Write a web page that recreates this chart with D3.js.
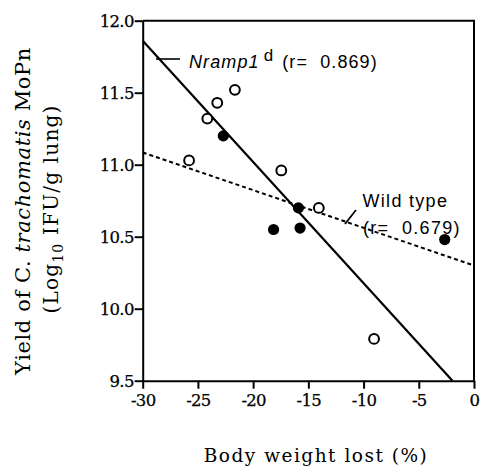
<!DOCTYPE html>
<html><head><meta charset="utf-8">
<script src="https://cdn.jsdelivr.net/npm/d3@7"></script>
<style>
body{margin:0;background:#fff;}
svg{display:block;}
</style></head>
<body><svg id="c" width="481" height="467"></svg>
<script>
// Data
const openX = [-25.8, -24.15, -23.25, -21.65, -17.45, -14.05, -9.05];
const openY = [11.03, 11.32, 11.43, 11.52, 10.96, 10.70, 9.79];
const filledX = [-22.7, -15.9, -18.15, -15.75, -2.65];
const filledY = [11.20, 10.70, 10.55, 10.56, 10.48];
const nrampLineX = [-30, -1.95];
const nrampLineY = [11.86, 9.5];
const wildLineX = [-30, 0];
const wildLineY = [11.085, 10.30];
const xTicks = [-30, -25, -20, -15, -10, -5, 0];
const yTicks = [9.5, 10.0, 10.5, 11.0, 11.5, 12.0];

const svg = d3.select("#c");
const L = 142.7, R = 474, T = 20.7, B = 380.7;
const x = d3.scaleLinear().domain([-30, 0]).range([L, R]);
const y = d3.scaleLinear().domain([9.5, 12]).range([B, T]);

const serif = "'DejaVu Serif', serif";
const sans = "'Liberation Sans', Arial, sans-serif";

// frame (top, right)
svg.append("path").attr("d", `M${L},${T}H${R}V${B}`).attr("fill","none").attr("stroke","#000").attr("stroke-width",2);

const gx = svg.append("g").attr("transform", `translate(0,${B})`)
  .call(d3.axisBottom(x).tickValues(xTicks).tickSize(8).tickSizeOuter(0).tickPadding(6)
    .tickFormat(d => d < 0 ? "-" + Math.abs(d) : String(d)));
const gy = svg.append("g").attr("transform", `translate(${L},0)`)
  .call(d3.axisLeft(y).tickValues(yTicks).tickSize(8).tickSizeOuter(0).tickPadding(1)
    .tickFormat(d3.format(".1f")));
[gx, gy].forEach(g => {
  g.select(".domain").attr("stroke-width", 2);
  g.selectAll(".tick line").attr("stroke-width", 2);
  g.selectAll(".tick text").attr("font-family", serif).attr("font-size", 16.5).attr("fill","#000")
    .attr("letter-spacing","-0.7").attr("stroke","#000").attr("stroke-width",0.25);
});
gy.selectAll(".tick text").attr("dy","0.36em");

// regression lines
const line = d3.line().x(d => x(d[0])).y(d => y(d[1]));
svg.append("path").datum(nrampLineX.map((v,i)=>[v, nrampLineY[i]]))
  .attr("d", line).attr("fill","none").attr("stroke","#000").attr("stroke-width",2.2);
svg.append("path").datum(wildLineX.map((v,i)=>[v, wildLineY[i]]))
  .attr("d", line).attr("fill","none").attr("stroke","#000").attr("stroke-width",2).attr("stroke-dasharray","4,3");

// points
svg.append("g").selectAll("circle").data(openX.map((v,i)=>[v, openY[i]])).join("circle")
  .attr("cx", d=>x(d[0])).attr("cy", d=>y(d[1])).attr("r", 4.9)
  .attr("fill","#fff").attr("stroke","#000").attr("stroke-width",2);
svg.append("g").selectAll("circle").data(filledX.map((v,i)=>[v, filledY[i]])).join("circle")
  .attr("cx", d=>x(d[0])).attr("cy", d=>y(d[1])).attr("r", 5.6).attr("fill","#000");

// labels
svg.append("line").attr("x1",156).attr("y1",59).attr("x2",180).attr("y2",59).attr("stroke","#000").attr("stroke-width",1.6);
const t1 = svg.append("text").attr("x",189).attr("y",67.5).attr("font-family",sans).attr("font-size",18).attr("letter-spacing","1.1");
t1.append("tspan").attr("font-style","italic").text("Nramp1");
t1.append("tspan").attr("dx",4).attr("dy",-7).attr("font-size",17).text("d");
t1.append("tspan").attr("dx",8).attr("dy",7).text("(r=\u00a0 0.869)");

svg.append("line").attr("x1",345).attr("y1",224).attr("x2",356).attr("y2",210).attr("stroke","#000").attr("stroke-width",1.8);
svg.append("text").attr("x",362.5).attr("y",206.5).attr("font-family",sans).attr("font-size",18).attr("letter-spacing","1.3").text("Wild type");
svg.append("text").attr("x",363).attr("y",233.5).attr("font-family",sans).attr("font-size",18).attr("letter-spacing","1.3").text("(r=\u00a0 0.679)");

// axis titles
svg.append("text").attr("x",316).attr("y",462).attr("text-anchor","middle").attr("font-family",serif)
  .attr("font-size",18.5).attr("letter-spacing","1.5").text("Body weight lost (%)");

const yt1 = svg.append("text").attr("transform","translate(30,211) rotate(-90)").attr("text-anchor","middle")
  .attr("font-family",serif).attr("font-size",21).attr("letter-spacing","0.6");
yt1.append("tspan").text("Yield of C. ");
yt1.append("tspan").attr("font-style","italic").text("trachomatis");
yt1.append("tspan").text(" MoPn");

const yt2 = svg.append("text").attr("transform","translate(58,209) rotate(-90)").attr("text-anchor","middle")
  .attr("font-family",serif).attr("font-size",20).attr("letter-spacing","1.2");
yt2.append("tspan").text("(Log");
yt2.append("tspan").attr("font-size",14).attr("dy",5).text("10");
yt2.append("tspan").attr("dy",-5).text(" IFU/g lung)");
</script></body></html>
